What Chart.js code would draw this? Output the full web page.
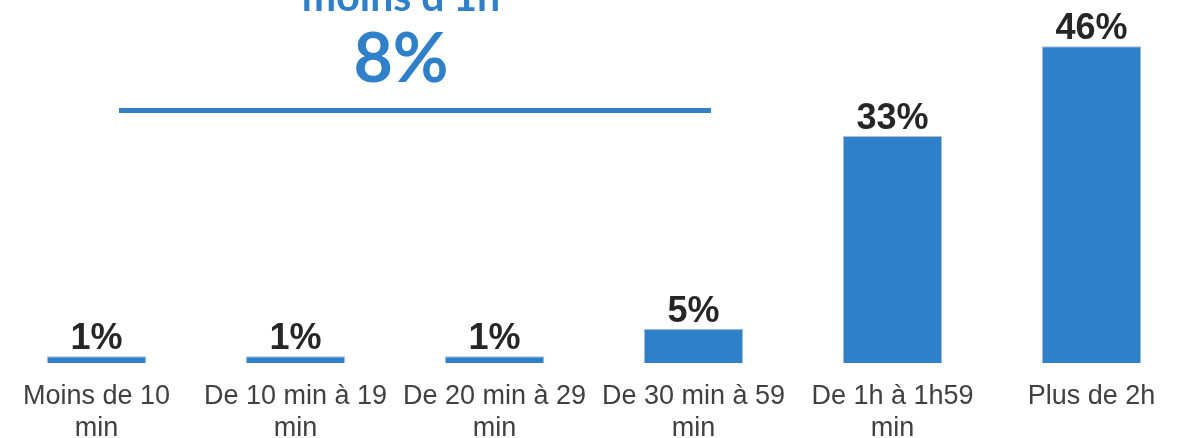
<!DOCTYPE html>
<html>
<head>
<meta charset="utf-8">
<script src="https://cdn.jsdelivr.net/npm/chart.js@4/dist/chart.umd.min.js"></script>
<style>
    html, body { margin: 0; padding: 0; background: #fff; overflow: hidden; }
    .frame { position: absolute; left: -3px; top: 0; width: 1194px; height: 454px; }
</style>
</head>
<body>
<div class="frame"><canvas id="chart"></canvas></div>
<script>
    const categories = [
        ["Moins de 10", "min"],
        ["De 10 min à 19", "min"],
        ["De 20 min à 29", "min"],
        ["De 30 min à 59", "min"],
        ["De 1h à 1h59", "min"],
        ["Plus de 2h"]
    ];
    const shares = [1, 1, 1, 5, 33, 46];
    const summaryTitle = "moins d'1h";
    const summaryValue = "8%";

    const blue = "#2f80c8";

    const valueLabels = {
        id: "valueLabels",
        afterDatasetsDraw(chart) {
            const ctx = chart.ctx;
            const meta = chart.getDatasetMeta(0);
            ctx.save();
            ctx.font = "bold 36px 'Liberation Sans', Arial, sans-serif";
            ctx.fillStyle = "#262626";
            ctx.textAlign = "center";
            ctx.textBaseline = "alphabetic";
            meta.data.forEach((bar, index) => {
                ctx.fillText(shares[index] + "%", bar.x, bar.y - 7);
            });
            ctx.restore();
        }
    };

    const summary = {
        id: "summary",
        afterDraw(chart) {
            const ctx = chart.ctx;
            ctx.save();
            ctx.fillStyle = blue;
            ctx.textAlign = "center";
            ctx.textBaseline = "alphabetic";
            ctx.font = "bold 41px Lato, 'Open Sans', sans-serif";
            ctx.fillText(summaryTitle, 404, 11);
            ctx.font = "bold 68px Lato, 'Open Sans', sans-serif";
            ctx.fillText(summaryValue, 404, 82);
            ctx.fillRect(122, 108, 592, 5);
            ctx.restore();
        }
    };

    new Chart(document.getElementById("chart"), {
        type: "bar",
        data: {
            labels: categories,
            datasets: [{
                data: shares,
                backgroundColor: blue,
                borderColor: "rgba(120, 140, 160, 0.55)",
                borderWidth: 1,
                categoryPercentage: 1,
                barPercentage: 0.5
            }]
        },
        options: {
            responsive: true,
            maintainAspectRatio: false,
            animation: false,
            layout: { padding: { top: 5, bottom: 0, left: 0, right: 0 } },
            plugins: {
                legend: { display: false },
                tooltip: { enabled: false }
            },
            scales: {
                x: {
                    grid: { display: false },
                    border: { display: false },
                    ticks: {
                        color: "#404040",
                        padding: 9,
                        maxRotation: 0,
                        autoSkip: false,
                        font: { family: "'Liberation Sans', Arial, sans-serif", size: 27, lineHeight: 1.2 }
                    }
                },
                y: {
                    display: false,
                    min: 0,
                    max: 52
                }
            }
        },
        plugins: [valueLabels, summary]
    });
</script>
</body>
</html>
